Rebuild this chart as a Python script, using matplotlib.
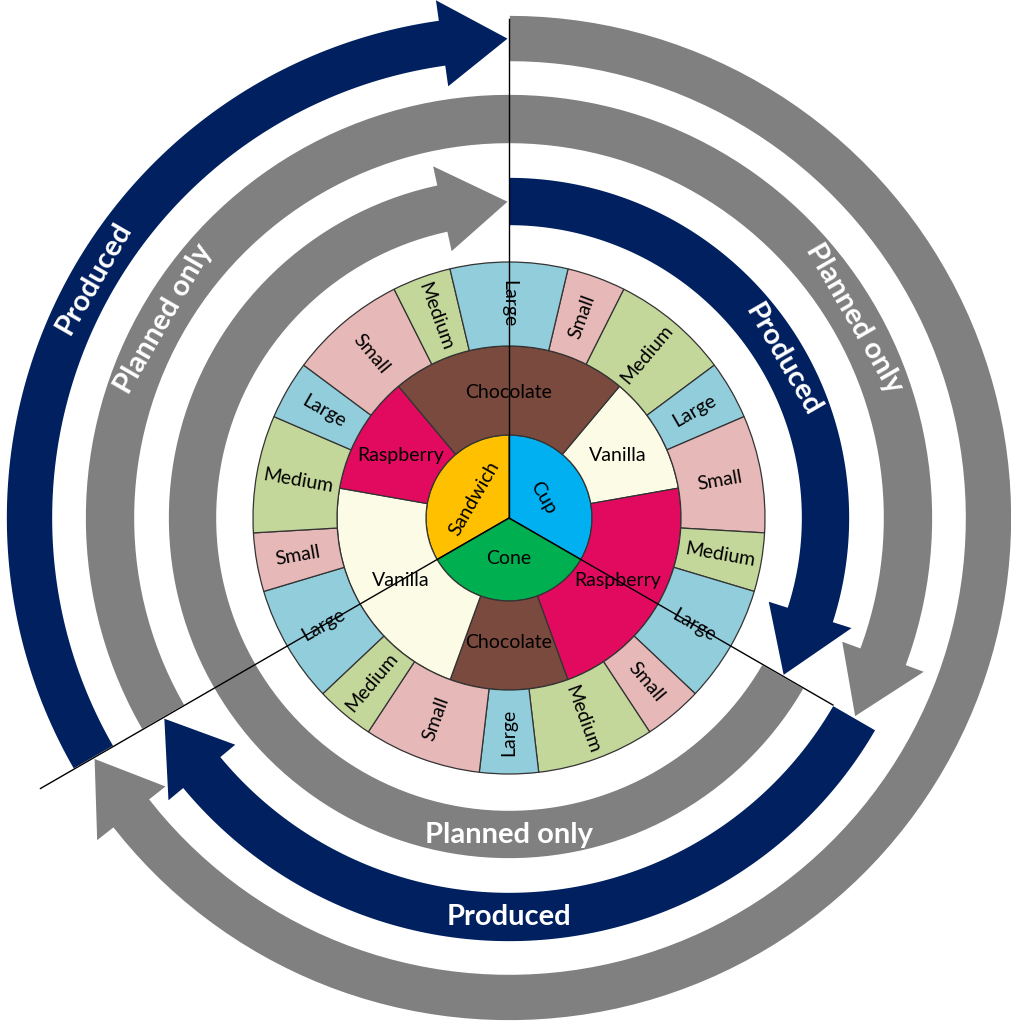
"""Ice-cream production wheel: sunburst of product / flavour / size with status arcs."""

import numpy as np
import matplotlib.pyplot as plt
from matplotlib.patches import Polygon

plt.rcParams['font.family'] = ['Lato', 'DejaVu Sans']

# sunburst leaves, clockwise from 12 o'clock, every leaf has the same weight
products = ["Cup", "Cone", "Sandwich"]
flavours = ["Chocolate", "Vanilla", "Raspberry",
            "Raspberry", "Chocolate", "Vanilla",
            "Vanilla", "Raspberry", "Chocolate"]
sizes = ["Large", "Small", "Medium", "Medium", "Large", "Small", "Small", "Medium", "Large",
         "Large", "Small", "Medium", "Medium", "Large", "Small", "Small", "Medium", "Large",
         "Large", "Small", "Medium", "Medium", "Large", "Small", "Small", "Medium", "Large"]

colors = {
    "Cup": "#00B0F0", "Cone": "#00B050", "Sandwich": "#FFC000",
    "Chocolate": "#7A4A3E", "Vanilla": "#FBFBE6", "Raspberry": "#E20A5E",
    "Large": "#92CDDC", "Small": "#E6B9B8", "Medium": "#C4D79B",
}

# status arcs around the wheel (compass degrees, clockwise, arrow head at the end)
arc_ring = [1, 1, 2, 2, 3, 3]
arc_start = [0, 240, 240, 120, 120, 0]
arc_end = [240, 360, 480, 240, 360, 120]
arc_status = ["Planned only", "Produced", "Planned only", "Produced", "Planned only", "Produced"]

label_text = ["Produced", "Planned only", "Planned only", "Produced", "Planned only", "Produced"]
label_ring = [1, 2, 2, 3, 3, 2]
label_angle = [300, 300, 60, 60, 180, 180]

divider_angle = [0, 120, 240]
divider_length = [499, 374, 541]

status_colors = {"Produced": "#002060", "Planned only": "#808080"}
ring_radius = {1: 479.5, 2: 399, 3: 316.5}
ring_width = {1: 47, 2: 50, 3: 49}

CX, CY = 509, 518


def xy(r, c):
    """Compass angle (deg, clockwise from north) to x, y."""
    t = np.radians(c)
    return r * np.sin(t), r * np.cos(t)


def runs(leaves):
    """Merge neighbouring equal leaves; returns labels, counts, start angle."""
    n = len(leaves)
    shift = next(i for i in range(n) if leaves[i] != leaves[i - 1])
    rolled = leaves[shift:] + leaves[:shift]
    labels, counts = [], []
    for lab in rolled:
        if labels and labels[-1] == lab:
            counts[-1] += 1
        else:
            labels.append(lab)
            counts.append(1)
    return labels, counts, shift * 360 / n


def arrow_band(a0, a1, r, w, head_len=68, head_hw=45):
    t1 = a1 - np.degrees(head_len / r)
    outer = np.linspace(a0, t1, 120)
    pts = [xy(r + w / 2, a) for a in outer]
    pts += [xy(r + head_hw, t1), xy(r, a1), xy(r - head_hw, t1)]
    pts += [xy(r - w / 2, a) for a in outer[::-1]]
    return np.array(pts)


fig = plt.figure(figsize=(10.12, 10.24), dpi=100)
ax = fig.add_axes([0, 0, 1, 1])

# arcs: grey first so the navy heads sit on top
for status in ["Planned only", "Produced"]:
    for ring, a0, a1, st in zip(arc_ring, arc_start, arc_end, arc_status):
        if st != status:
            continue
        poly = Polygon(arrow_band(a0, a1, ring_radius[ring], ring_width[ring]),
                       closed=True, facecolor=status_colors[st],
                       edgecolor='white', linewidth=1.2, zorder=2)
        ax.add_patch(poly)

for text, ring, c in zip(label_text, label_ring, label_angle):
    x, y = xy(ring_radius[ring], c)
    rot = (-c + 90) % 180 - 90
    ax.text(x, y, text, rotation=rot, rotation_mode='anchor', ha='center', va='center',
            color='white', fontsize=21, fontweight='bold', zorder=3)

# sunburst rings
leaves_inner = [p for p in products for _ in range(9)]
leaves_mid = [f for f in flavours for _ in range(3)]
rings = [(leaves_inner, 83, 83, 40, 'tangential'),
         (leaves_mid, 172, 89, 125, 'horizontal'),
         (sizes, 256, 84, 214, 'radial')]

for leaves, radius, width, r_text, mode in rings:
    labels, counts, start = runs(leaves)
    wedges, _ = ax.pie(counts, radius=radius, startangle=90 - start, counterclock=False,
                       colors=[colors[l] for l in labels],
                       wedgeprops=dict(width=width, edgecolor='#333333', linewidth=0.9))
    for wdg, lab in zip(wedges, labels):
        wdg.set_zorder(4)
        c = (90 - (wdg.theta1 + wdg.theta2) / 2) % 360
        if c < 0.5:
            c += 360
        if mode == 'tangential':
            rot = (-c + 90) % 180 - 90
        elif mode == 'radial':
            rot = 90 - c if c < 180 else 270 - c
        else:
            rot = 0
        x, y = xy(r_text, c)
        ax.text(x, y, lab, rotation=rot, rotation_mode='anchor', ha='center', va='center',
                fontsize=14, color='black', zorder=5)

for c, length in zip(divider_angle, divider_length):
    x, y = xy(length, c)
    ax.plot([0, x], [0, y], color='black', linewidth=1, zorder=6)

ax.set_xlim(-CX, 1012 - CX)
ax.set_ylim(-(1024 - CY), CY)
ax.set_aspect('equal')
ax.axis('off')

fig.savefig('out.png', dpi=100)
